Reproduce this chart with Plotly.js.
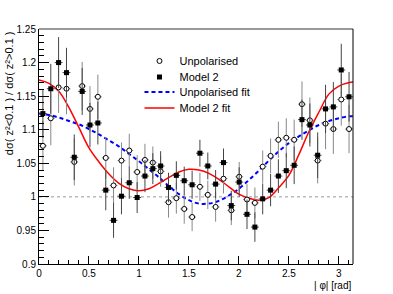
<!DOCTYPE html>
<html>
<head>
<meta charset="utf-8">
<script src="https://cdn.plot.ly/plotly-3.0.1.min.js"></script>
<style>html,body{margin:0;padding:0;background:#fff;}#chart{width:393px;height:294px;}</style>
</head>
<body>
<div id="chart"></div>
<script>
// bin centres of |phi| (40 bins on [0, pi])
const phiBins = [0.039,0.118,0.196,0.275,0.353,0.432,0.510,0.589,0.668,0.746,
                 0.825,0.903,0.982,1.060,1.139,1.217,1.296,1.374,1.453,1.532,
                 1.610,1.689,1.767,1.846,1.924,2.003,2.081,2.160,2.238,2.317,
                 2.395,2.474,2.553,2.631,2.710,2.788,2.867,2.945,3.024,3.102];
const unpolarised = [1.076,1.117,1.163,1.161,1.052,1.165,1.131,1.149,1.058,1.017,
                     1.054,1.069,1.037,1.055,1.051,1.038,0.992,0.998,0.982,0.970,
                     1.015,1.003,0.985,1.027,0.980,1.030,0.996,0.991,1.045,1.061,
                     1.085,1.088,1.085,1.138,1.114,1.054,1.109,1.101,1.145,1.101];
const unpolarisedErr = [0.037,0.040,0.038,0.038,0.035,0.036,0.034,0.033,0.031,0.027,
                        0.027,0.025,0.025,0.024,0.024,0.023,0.023,0.023,0.022,0.021,
                        0.021,0.021,0.022,0.022,0.022,0.022,0.023,0.023,0.024,0.026,
                        0.027,0.029,0.030,0.034,0.034,0.034,0.038,0.037,0.039,0.036];
const model2 = [1.124,1.161,1.200,1.185,1.059,1.157,1.107,1.110,1.010,0.965,
                1.001,1.021,0.999,1.031,1.042,1.046,1.014,1.032,1.024,1.018,
                1.065,1.046,1.019,1.051,0.987,1.022,0.974,0.955,0.997,1.010,
                1.031,1.039,1.047,1.115,1.107,1.062,1.131,1.134,1.189,1.149];
const model2Err = [0.036,0.037,0.038,0.037,0.034,0.035,0.033,0.032,0.030,0.026,
                   0.027,0.024,0.023,0.024,0.023,0.022,0.022,0.021,0.021,0.021,
                   0.020,0.020,0.021,0.021,0.022,0.022,0.022,0.022,0.023,0.024,
                   0.025,0.026,0.028,0.030,0.032,0.034,0.036,0.037,0.039,0.037];
// fit curves
const fitPhi = [0,0.1,0.2,0.3,0.4,0.5,0.6,0.7,0.8,0.9,1.0,1.1,1.2,1.3,1.4,1.5,1.6,
                1.7,1.8,1.9,2.0,2.1,2.2,2.3,2.4,2.5,2.6,2.7,2.8,2.9,3.0,3.1,3.1416];
const unpolarisedFit = [1.124,1.122,1.118,1.113,1.108,1.101,1.093,1.084,1.075,1.064,1.053,
                        1.041,1.029,1.016,1.004,0.995,0.990,0.990,0.994,1.002,1.012,
                        1.025,1.039,1.054,1.068,1.080,1.090,1.099,1.107,1.113,1.117,1.120,1.120];
const model2Fit = [1.174,1.169,1.157,1.133,1.103,1.073,1.052,1.034,1.020,1.012,1.009,
                   1.012,1.020,1.029,1.037,1.041,1.040,1.035,1.026,1.015,1.004,
                   0.998,0.995,0.999,1.014,1.032,1.063,1.097,1.126,1.153,1.165,1.170,1.171];
const seriesNames = ['Unpolarised', 'Model 2', 'Unpolarised fit', 'Model 2 fit'];
const halfBin = Math.PI / 80;

const font = 'Liberation Sans, Arial, Helvetica, sans-serif';

const traces = [
  {x: fitPhi, y: unpolarisedFit, type: 'scatter', mode: 'lines', name: seriesNames[2],
   line: {color: '#0000ff', width: 2, dash: '4px,3px', shape: 'spline'}, legend: 'legend3'},
  {x: fitPhi, y: model2Fit, type: 'scatter', mode: 'lines', name: seriesNames[3],
   line: {color: '#ff0000', width: 1.5, shape: 'spline'}, legend: 'legend4'},
  {x: phiBins, y: unpolarised, type: 'scatter', mode: 'markers', name: seriesNames[0],
   marker: {symbol: 'circle', size: 5, color: '#fff', line: {width: 1, color: '#000'}},
   error_y: {type: 'data', array: unpolarisedErr, width: 0, thickness: 1, color: '#888'},
   error_x: {type: 'constant', value: halfBin, width: 0, thickness: 1, color: '#888'},
   legend: 'legend'},
  {x: phiBins, y: model2, type: 'scatter', mode: 'markers', name: seriesNames[1],
   marker: {symbol: 'square', size: 5, color: '#000'},
   error_y: {type: 'data', array: model2Err, width: 0, thickness: 1, color: '#444'},
   error_x: {type: 'constant', value: halfBin, width: 0, thickness: 1, color: '#444'},
   legend: 'legend2'}
];

function legendAt(yPaper) {
  return {x: 0.32, y: yPaper, xanchor: 'left', yanchor: 'middle', bgcolor: 'rgba(0,0,0,0)',
          font: {size: 11, family: font, color: '#000'}, borderwidth: 0};
}

const layout = {
  width: 393, height: 294,
  margin: {l: 39, r: 40, t: 29, b: 30},
  paper_bgcolor: '#fff', plot_bgcolor: '#fff',
  font: {family: font, size: 10, color: '#000'},
  showlegend: true,
  legend: legendAt(0.864),
  legend2: legendAt(0.796),
  legend3: legendAt(0.732),
  legend4: legendAt(0.664),
  xaxis: {range: [0, Math.PI], dtick: 0.5, tick0: 0, ticks: 'inside', ticklen: 8, tickwidth: 1,
          tickcolor: '#000', showline: true, linecolor: '#000', linewidth: 1, showgrid: false,
          zeroline: false, tickfont: {size: 10, family: font},
          minor: {dtick: 0.1, ticks: 'inside', ticklen: 4, tickcolor: '#000', showgrid: false}},
  yaxis: {range: [0.9, 1.25], dtick: 0.05, tick0: 0.9, ticks: 'inside', ticklen: 10, tickwidth: 1,
          tickcolor: '#000', showline: true, linecolor: '#000', linewidth: 1, showgrid: false,
          zeroline: false, tickfont: {size: 10, family: font},
          minor: {dtick: 0.01, ticks: 'inside', ticklen: 5, tickcolor: '#000', showgrid: false}},
  shapes: [
    {type: 'line', xref: 'paper', yref: 'y', x0: 0, x1: 1, y0: 1, y1: 1,
     line: {color: '#999', width: 1, dash: 'dot'}, layer: 'below'},
    {type: 'line', xref: 'paper', yref: 'paper', x0: 0, x1: 1, y0: 1, y1: 1,
     line: {color: '#999', width: 2}},
    {type: 'line', xref: 'paper', yref: 'paper', x0: 1, x1: 1, y0: 0, y1: 1,
     line: {color: '#000', width: 1}}
  ],
  annotations: [
    {text: 'dσ( z²<0.1 ) / dσ( z²>0.1 )', xref: 'paper', yref: 'paper', x: -0.095, y: 1,
     xanchor: 'center', yanchor: 'top', textangle: -90, showarrow: false,
     font: {size: 11, family: font}},
    {text: '| φ| [rad]', xref: 'paper', yref: 'paper', x: 1, y: -0.09,
     xanchor: 'right', yanchor: 'middle', showarrow: false, font: {size: 10, family: font}}
  ]
};

Plotly.newPlot('chart', traces, layout, {displayModeBar: false, staticPlot: true});
</script>
</body>
</html>
